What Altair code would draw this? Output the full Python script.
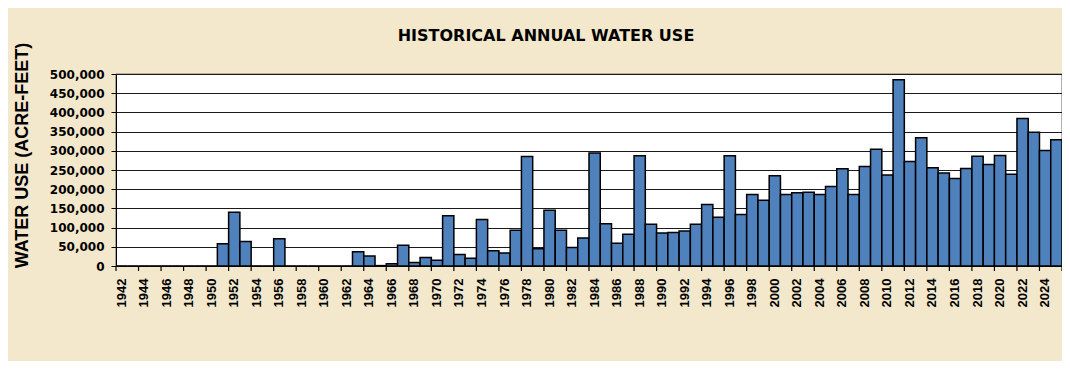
import altair as alt
import pandas as pd

years = list(range(1942, 2026))
water_use = [
    0, 0, 0, 0, 0, 0, 0, 0, 0,                      # 1942-1950
    58000, 140000, 64000, 0, 0, 71000,             # 1951-1956
    0, 0, 0, 0, 0, 0,                              # 1957-1962
    37000, 26000, 1000, 6000, 54000, 9000, 22000, 15000,   # 1963-1970
    131000, 30000, 20000, 121000, 40000, 34000, 93000, 285000, 45000, 145000,  # 1971-1980
    93000, 48000, 73000, 294000, 110000, 59000, 83000, 287000, 109000, 86000,  # 1981-1990
    87000, 91000, 109000, 160000, 127000, 287000, 134000, 186000, 171000, 235000,  # 1991-2000
    186000, 191000, 192000, 186000, 207000, 253000, 186000, 259000, 304000, 237000,  # 2001-2010
    485000, 272000, 334000, 256000, 242000, 228000, 254000, 286000, 264000, 288000,  # 2011-2020
    239000, 384000, 348000, 301000, 329000,        # 2021-2025
]
label_years = list(range(1942, 2026, 2))
y_ticks = list(range(0, 500001, 50000))

df = pd.DataFrame({"year": years, "use": water_use})
ticks_df = pd.DataFrame({"year": label_years})
end_df = pd.DataFrame({"year": [years[-1]]})

x_scale = alt.Scale(paddingInner=0, paddingOuter=0)
y_scale = alt.Scale(domain=[0, 500000], nice=False)

x_axis = alt.Axis(
    title=None,
    labelExpr="datum.value % 2 == 0 ? datum.label : ''",
    labelAngle=-90,
    labelAlign="right",
    labelBaseline="middle",
    labelFont="Liberation Sans",
    labelFontWeight="bold",
    labelFontSize=13,
    labelColor="#000000",
    labelPadding=12,
    labelOverlap=False,
    labelBound=False,
    ticks=False,
    domain=False,
    grid=False,
)

y_axis = alt.Axis(
    title="WATER USE (ACRE-FEET)",
    values=y_ticks,
    format=",d",
    labelFont="DejaVu Sans",
    labelFontWeight="bold",
    labelFontSize=12,
    labelColor="#000000",
    labelPadding=7,
    tickColor="#000000",
    tickSize=5,
    domainColor="#000000",
    gridColor="#1a1a1a",
    gridWidth=1,
    titleFont="Liberation Sans",
    titleFontWeight="bold",
    titleFontSize=18,
    titleColor="#000000",
    titleAngle=270,
    titleAlign="center",
    titleBaseline="middle",
    titleX=-94,
    titleY=81,
)

bars = (
    alt.Chart(df)
    .mark_bar(color="#4F81BD", stroke="#000000", strokeWidth=1.5)
    .encode(
        x=alt.X("year:O", scale=x_scale, axis=x_axis),
        y=alt.Y("use:Q", scale=y_scale, axis=y_axis),
    )
)

tick_marks = (
    alt.Chart(ticks_df)
    .mark_rule(color="#000000", strokeWidth=1.2, y2Offset=5)
    .encode(
        x=alt.X("year:O", bandPosition=0, scale=x_scale, axis=x_axis),
        y=alt.Y(datum=0, scale=y_scale, axis=y_axis),
        y2=alt.Y2(datum=0),
    )
)

end_tick = (
    alt.Chart(end_df)
    .mark_rule(color="#000000", strokeWidth=1.2, y2Offset=5)
    .encode(
        x=alt.X("year:O", bandPosition=1, scale=x_scale, axis=x_axis),
        y=alt.Y(datum=0, scale=y_scale, axis=y_axis),
        y2=alt.Y2(datum=0),
    )
)

chart = (
    alt.layer(bars, tick_marks, end_tick)
    .properties(
        width=946,
        height=192,
        autosize=alt.AutoSizeParams(type="none"),
        padding={"left": 108, "top": 66, "right": 0, "bottom": 95},
        background="#F3E8CB",
        title=alt.TitleParams(
            "HISTORICAL ANNUAL WATER USE",
            font="DejaVu Sans",
            fontSize=16,
            fontWeight="bold",
            color="#000000",
            anchor="middle",
            dx=-43,
            offset=-2,
        ),
    )
    .configure_view(fill="#FFFFFF", stroke="#000000", strokeWidth=1.2)
)

chart.save("out.html", embed_options={"renderer": "svg", "actions": False})
